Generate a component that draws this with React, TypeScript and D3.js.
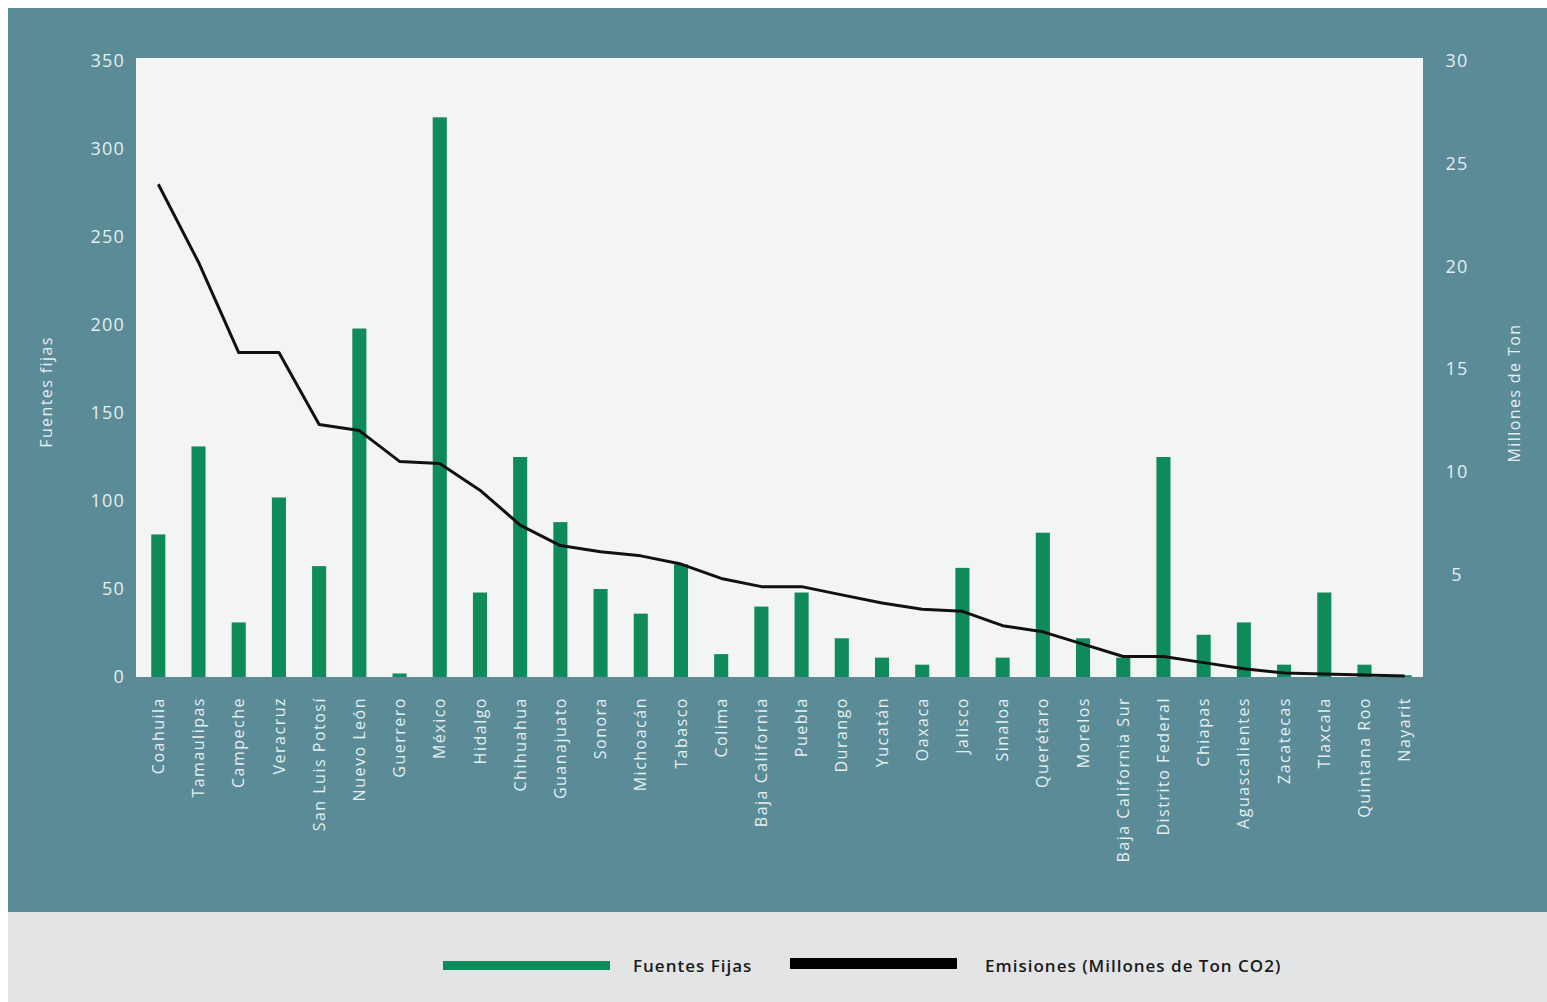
import React from "react";
import * as d3 from "d3";

const states = [
  "Coahuila", "Tamaulipas", "Campeche", "Veracruz", "San Luis Potosí", "Nuevo León",
  "Guerrero", "México", "Hidalgo", "Chihuahua", "Guanajuato", "Sonora", "Michoacán",
  "Tabasco", "Colima", "Baja California", "Puebla", "Durango", "Yucatán", "Oaxaca",
  "Jalisco", "Sinaloa", "Querétaro", "Morelos", "Baja California Sur", "Distrito Federal",
  "Chiapas", "Aguascalientes", "Zacatecas", "Tlaxcala", "Quintana Roo", "Nayarit",
];

const fuentesFijas = [
  81, 131, 31, 102, 63, 198, 2, 318, 48, 125, 88, 50, 36, 64, 13, 40,
  48, 22, 11, 7, 62, 11, 82, 22, 11, 125, 24, 31, 7, 48, 7, 1,
];

const emisiones = [
  24.0, 20.2, 15.8, 15.8, 12.3, 12.0, 10.5, 10.4, 9.1, 7.4, 6.4, 6.1, 5.9, 5.5, 4.8, 4.4,
  4.4, 4.0, 3.6, 3.3, 3.2, 2.5, 2.2, 1.6, 1.0, 1.0, 0.7, 0.4, 0.2, 0.15, 0.1, 0.05,
];

const leftTicks = [0, 50, 100, 150, 200, 250, 300, 350];
const rightTicks = [5, 10, 15, 20, 25, 30];

const leftTitle = "Fuentes fijas";
const rightTitle = "Millones de Ton";
const legendLabels = ["Fuentes Fijas", "Emisiones (Millones de Ton CO2)"];

const W = 1547;
const H = 1002;
const plot = { left: 136, right: 1423, top: 58, bottom: 677 };

const TEAL = "#5b8b96";
const GREEN = "#0f8a5a";
const LIGHT = "#e4eff1";
const FONT = "'Open Sans', 'DejaVu Sans', sans-serif";

export default function App() {
  const x = d3
    .scaleBand<string>()
    .domain(states)
    .range([plot.left + 2, plot.right + 2])
    .paddingInner(0.65)
    .paddingOuter(0.33);
  const yL = d3.scaleLinear().domain([0, 350]).range([plot.bottom, plot.bottom - 616]);
  const yR = d3.scaleLinear().domain([0, 30]).range([plot.bottom, plot.bottom - 616]);

  const cx = (s: string) => (x(s) as number) + x.bandwidth() / 2;

  const line = d3
    .line<number>()
    .x((_, i) => cx(states[i]))
    .y((d) => yR(d))
    .curve(d3.curveLinear);

  return (
    <svg
      width={W}
      height={H}
      style={{ position: "absolute", left: 0, top: 0, display: "block" }}
      fontFamily={FONT}
    >
      <rect x={0} y={0} width={W} height={H} fill="#ffffff" />
      <rect x={8} y={8} width={W - 8} height={904} fill={TEAL} />
      <rect x={8} y={912} width={W - 8} height={90} fill="#e2e4e5" />
      <rect
        x={plot.left}
        y={plot.top}
        width={plot.right - plot.left}
        height={plot.bottom - plot.top}
        fill="#f3f4f4"
      />

      {/* bars */}
      {fuentesFijas.map((v, i) => (
        <rect
          key={states[i]}
          x={x(states[i])}
          y={yL(v)}
          width={x.bandwidth()}
          height={plot.bottom - yL(v)}
          fill={GREEN}
        />
      ))}

      {/* line */}
      <path d={line(emisiones) || ""} fill="none" stroke="#111" strokeWidth={3} strokeLinejoin="round" />

      {/* left axis */}
      {leftTicks.map((t) => (
        <text
          key={"l" + t}
          x={125}
          y={yL(t)}
          dy="0.35em"
          textAnchor="end"
          fill={LIGHT}
          fontSize={18}
          letterSpacing={1.2}
        >
          {t}
        </text>
      ))}
      <text
        transform={`translate(46, 392) rotate(-90)`}
        textAnchor="middle"
        dy="0.35em"
        fill={LIGHT}
        fontSize={16}
        letterSpacing={1.4}
      >
        {leftTitle}
      </text>

      {/* right axis */}
      {rightTicks.map((t) => (
        <text
          key={"r" + t}
          x={1457}
          y={yR(t)}
          dy="0.35em"
          textAnchor="middle"
          fill={LIGHT}
          fontSize={18}
          letterSpacing={1.2}
        >
          {t}
        </text>
      ))}
      <text
        transform={`translate(1514, 393) rotate(-90)`}
        textAnchor="middle"
        dy="0.35em"
        fill={LIGHT}
        fontSize={16}
        letterSpacing={1.4}
      >
        {rightTitle}
      </text>

      {/* x labels */}
      {states.map((s) => (
        <text
          key={"x" + s}
          transform={`translate(${cx(s)}, 697) rotate(-90)`}
          textAnchor="end"
          dy="0.35em"
          fill={LIGHT}
          fontSize={16}
          letterSpacing={1.5}
        >
          {s}
        </text>
      ))}

      {/* legend */}
      <rect x={443} y={961} width={167} height={9} fill={GREEN} />
      <text x={633} y={966} dy="0.35em" fill="#1a1a1a" fontSize={17} fontWeight={600} letterSpacing={1.0}>
        {legendLabels[0]}
      </text>
      <rect x={790} y={958} width={167} height={11} fill="#000" />
      <text x={985} y={966} dy="0.35em" fill="#1a1a1a" fontSize={17} fontWeight={600} letterSpacing={1.0}>
        {legendLabels[1]}
      </text>
    </svg>
  );
}
